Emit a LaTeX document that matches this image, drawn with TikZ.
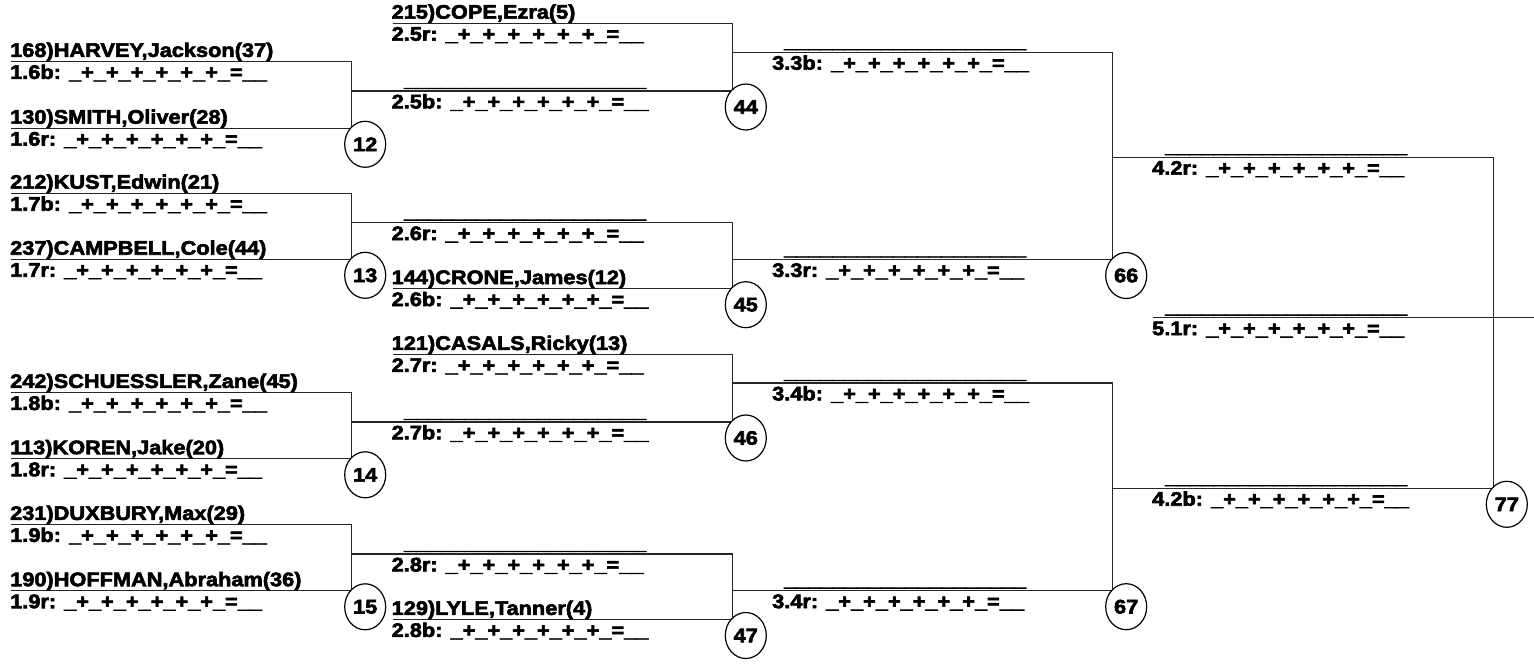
\documentclass[tikz,border=0pt]{standalone}
\usepackage{fontspec}
\usetikzlibrary{shapes.geometric}
\newfontfamily\labfam{Liberation Sans}[FakeStretch=1.11,FakeBold=3]
\newcommand\labfont{\labfam\bfseries\fontsize{19.6}{21}\selectfont}
\newcommand\us{\char"5F\relax}
\newcommand\myscore{\us+\us+\us+\us+\us+\us+\us=\us\us}
\newcommand\myblank{\us\us\us\us\us\us\us\us\us\us\us\us\us\us\us\us\us\us\us\us}
\tikzset{
  ln/.style={line width=1.3pt, black!85},
  nm/.style={anchor=base west, inner sep=0pt, font=\labfont},
  circ/.style={ellipse, draw, line width=1.2pt, fill=white, minimum width=41pt, minimum height=46pt, inner sep=0pt, font=\labfont}
}
\begin{document}
\begin{tikzpicture}[x=1pt,y=-1pt]
\useasboundingbox (0,0) rectangle (1534,667);
% ---------- coordinates ----------
% round 1
\coordinate (a16t) at (11,61.5);   \coordinate (v16t) at (351.7,61.5);
\coordinate (a16b) at (11,128.3);  \coordinate (v16b) at (351.7,128.3);
\coordinate (a17t) at (11,193.3);  \coordinate (v17t) at (351.7,193.3);
\coordinate (a17b) at (11,259.3);  \coordinate (v17b) at (351.7,259.3);
\coordinate (a18t) at (11,392.5);  \coordinate (v18t) at (351.7,392.5);
\coordinate (a18b) at (11,458.8);  \coordinate (v18b) at (351.7,458.8);
\coordinate (a19t) at (11,524.5);  \coordinate (v19t) at (351.7,524.5);
\coordinate (a19b) at (11,590.8);  \coordinate (v19b) at (351.7,590.8);
% round 2
\coordinate (a25t) at (392.7,23.3);  \coordinate (v25t) at (732.3,23.3);
\coordinate (a25b) at (351.7,91);    \coordinate (v25b) at (732.3,91);
\coordinate (a26t) at (351.7,222.7); \coordinate (v26t) at (732.3,222.7);
\coordinate (a26b) at (392.7,288.7); \coordinate (v26b) at (732.3,288.7);
\coordinate (a27t) at (392.7,354.5); \coordinate (v27t) at (732.3,354.5);
\coordinate (a27b) at (351.7,422);   \coordinate (v27b) at (732.3,422);
\coordinate (a28t) at (351.7,554);   \coordinate (v28t) at (732.3,554);
\coordinate (a28b) at (392.7,619.5); \coordinate (v28b) at (732.3,619.5);
% round 3
\coordinate (a33t) at (732.3,52.3);  \coordinate (v33t) at (1112.7,52.3);
\coordinate (a33b) at (732.3,259.5); \coordinate (v33b) at (1112.7,259.5);
\coordinate (a34t) at (732.3,383);   \coordinate (v34t) at (1112.7,383);
\coordinate (a34b) at (732.3,590.7); \coordinate (v34b) at (1112.7,590.7);
% round 4
\coordinate (a42t) at (1112.7,157.3); \coordinate (v42t) at (1493.3,157.3);
\coordinate (a42b) at (1112.7,488.3); \coordinate (v42b) at (1493.3,488.3);
\coordinate (a51) at (1153.3,317.7);  \coordinate (e51) at (1534,317.7);
% ---------- bracket lines ----------
\draw[ln] (a16t) -- (v16t) -- (v16b) -- (a16b);
\draw[ln] (a17t) -- (v17t) -- (v17b) -- (a17b);
\draw[ln] (a18t) -- (v18t) -- (v18b) -- (a18b);
\draw[ln] (a19t) -- (v19t) -- (v19b) -- (a19b);
\draw[ln] (a25t) -- (v25t) -- (v25b) -- (a25b);
\draw[ln] (a26t) -- (v26t) -- (v26b) -- (a26b);
\draw[ln] (a27t) -- (v27t) -- (v27b) -- (a27b);
\draw[ln] (a28t) -- (v28t) -- (v28b) -- (a28b);
\draw[ln] (a33t) -- (v33t) -- (v33b) -- (a33b);
\draw[ln] (a34t) -- (v34t) -- (v34b) -- (a34b);
\draw[ln] (a42t) -- (v42t) -- (v42b) -- (a42b);
\draw[ln] (a51) -- (e51);
% ---------- round 1 texts ----------
\node[nm] (n16t) at (10,56.9)  {168)HARVEY,Jackson(37)};
\node[nm] (s16t) at (10,78.9)  {1.6b: \myscore};
\node[nm] (n16b) at (10,123.7) {130)SMITH,Oliver(28)};
\node[nm] (s16b) at (10,145.7) {1.6r: \myscore};
\node[nm] (n17t) at (10,188.7) {212)KUST,Edwin(21)};
\node[nm] (s17t) at (10,210.7) {1.7b: \myscore};
\node[nm] (n17b) at (10,254.7) {237)CAMPBELL,Cole(44)};
\node[nm] (s17b) at (10,276.7) {1.7r: \myscore};
\node[nm] (n18t) at (10,387.9) {242)SCHUESSLER,Zane(45)};
\node[nm] (s18t) at (10,409.9) {1.8b: \myscore};
\node[nm] (n18b) at (10,454.2) {113)KOREN,Jake(20)};
\node[nm] (s18b) at (10,476.2) {1.8r: \myscore};
\node[nm] (n19t) at (10,519.9) {231)DUXBURY,Max(29)};
\node[nm] (s19t) at (10,541.9) {1.9b: \myscore};
\node[nm] (n19b) at (10,586.2) {190)HOFFMAN,Abraham(36)};
\node[nm] (s19b) at (10,608.2) {1.9r: \myscore};
% ---------- round 2 texts ----------
\node[nm] (n25t) at (391.5,18.7)  {215)COPE,Ezra(5)};
\node[nm] (s25t) at (391.5,40.7)  {2.5r: \myscore};
\node[nm] (n25b) at (404,86.4)    {\myblank};
\node[nm] (s25b) at (391.5,108.4) {2.5b: \myscore};
\node[nm] (n26t) at (404,218.1)   {\myblank};
\node[nm] (s26t) at (391.5,240.1) {2.6r: \myscore};
\node[nm] (n26b) at (391.5,284.1) {144)CRONE,James(12)};
\node[nm] (s26b) at (391.5,306.1) {2.6b: \myscore};
\node[nm] (n27t) at (391.5,349.9) {121)CASALS,Ricky(13)};
\node[nm] (s27t) at (391.5,371.9) {2.7r: \myscore};
\node[nm] (n27b) at (404,417.4)   {\myblank};
\node[nm] (s27b) at (391.5,439.4) {2.7b: \myscore};
\node[nm] (n28t) at (404,549.4)   {\myblank};
\node[nm] (s28t) at (391.5,571.4) {2.8r: \myscore};
\node[nm] (n28b) at (391.5,614.9) {129)LYLE,Tanner(4)};
\node[nm] (s28b) at (391.5,636.9) {2.8b: \myscore};
% ---------- round 3 texts ----------
\node[nm] (n33t) at (784,47.7)   {\myblank};
\node[nm] (s33t) at (772,69.7)   {3.3b: \myscore};
\node[nm] (n33b) at (784,254.9)  {\myblank};
\node[nm] (s33b) at (772,276.9)  {3.3r: \myscore};
\node[nm] (n34t) at (784,378.4)  {\myblank};
\node[nm] (s34t) at (772,400.4)  {3.4b: \myscore};
\node[nm] (n34b) at (784,586.1)  {\myblank};
\node[nm] (s34b) at (772,608.1)  {3.4r: \myscore};
% ---------- round 4 texts ----------
\node[nm] (n42t) at (1165,152.7) {\myblank};
\node[nm] (s42t) at (1152,174.7) {4.2r: \myscore};
\node[nm] (n51)  at (1165,313.1) {\myblank};
\node[nm] (s51)  at (1152,335.1) {5.1r: \myscore};
\node[nm] (n42b) at (1165,483.7) {\myblank};
\node[nm] (s42b) at (1152,505.7) {4.2b: \myscore};
% ---------- match circles ----------
\node[circ] (c12) at (365.2,144.3) {12};
\node[circ] (c13) at (365.2,275.3) {13};
\node[circ] (c14) at (365.2,474.8) {14};
\node[circ] (c15) at (365.2,606.8) {15};
\node[circ] (c44) at (745.8,107)   {44};
\node[circ] (c45) at (745.8,304.7) {45};
\node[circ] (c46) at (745.8,438)   {46};
\node[circ] (c47) at (745.8,635.5) {47};
\node[circ] (c66) at (1126.2,275.5) {66};
\node[circ] (c67) at (1126.2,606.7) {67};
\node[circ] (c77) at (1506.8,504.3) {77};
\end{tikzpicture}
\end{document}
